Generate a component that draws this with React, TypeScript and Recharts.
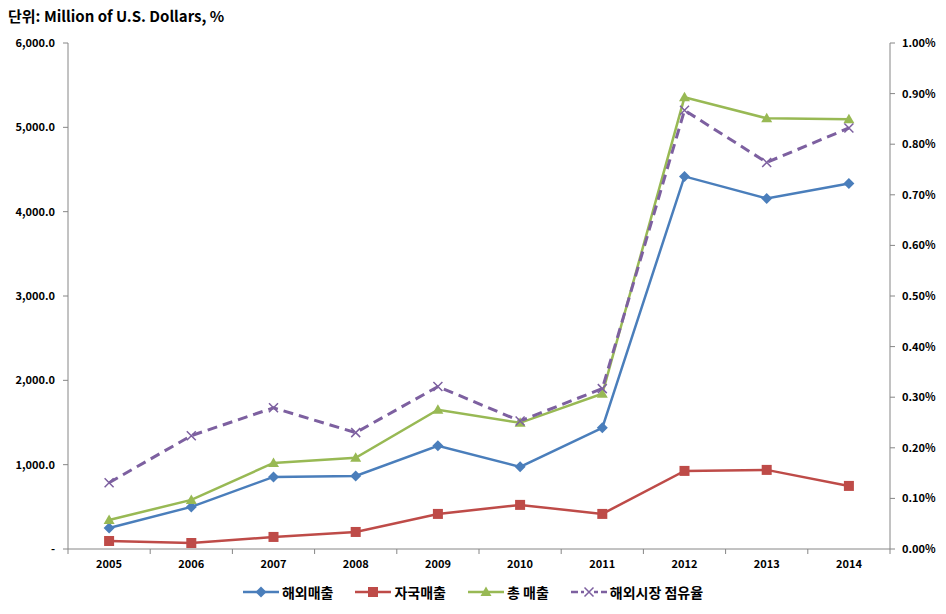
import { ComposedChart, Line, XAxis, YAxis, Legend } from "recharts"

const years = ["2005", "2006", "2007", "2008", "2009", "2010", "2011", "2012", "2013", "2014"]
const overseasSales = [249, 499, 855, 867, 1223, 974, 1437, 4418, 4157, 4335]
const domesticSales = [95, 71, 143, 202, 416, 523, 416, 926, 938, 748]
const totalSales = [344, 582, 1021, 1081, 1651, 1496, 1841, 5356, 5107, 5095]
const marketShare = [0.131, 0.224, 0.279, 0.23, 0.321, 0.253, 0.317, 0.867, 0.764, 0.832]

const leftTicks = [0, 1000, 2000, 3000, 4000, 5000, 6000]
const rightTicks = [0, 0.1, 0.2, 0.3, 0.4, 0.5, 0.6, 0.7, 0.8, 0.9, 1.0]

const BLUE = "#4A7EBB"
const RED = "#BE4B48"
const GREEN = "#98B954"
const PURPLE = "#7D60A0"
const FONT = "'Noto Sans CJK KR', 'Noto Sans', sans-serif"

const data = years.map((y, i) => ({
  year: y,
  overseas: overseasSales[i],
  domestic: domesticSales[i],
  total: totalSales[i],
  share: marketShare[i],
}))

const W = 946
const H = 614
const LEFT = 68
const RIGHT = 890
const halfBand = (RIGHT - LEFT) / years.length / 2

function Diamond({ cx, cy }: any) {
  if (cx == null || cy == null) return null
  return <path d={`M${cx},${cy - 5.5}L${cx + 5.5},${cy}L${cx},${cy + 5.5}L${cx - 5.5},${cy}Z`} fill={BLUE} />
}
function Square({ cx, cy }: any) {
  if (cx == null || cy == null) return null
  return <rect x={cx - 5} y={cy - 5} width={10} height={10} fill={RED} />
}
function Triangle({ cx, cy }: any) {
  if (cx == null || cy == null) return null
  return <path d={`M${cx},${cy - 5.5}L${cx + 5.5},${cy + 4}L${cx - 5.5},${cy + 4}Z`} fill={GREEN} />
}
function Cross({ cx, cy }: any) {
  if (cx == null || cy == null) return null
  return (
    <path d={`M${cx - 4.5},${cy - 4.5}L${cx + 4.5},${cy + 4.5}M${cx + 4.5},${cy - 4.5}L${cx - 4.5},${cy + 4.5}`}
      stroke={PURPLE} strokeWidth={1.5} fill="none" />
  )
}

function YearTick({ x, y, payload, index }: any) {
  const last = index === years.length - 1
  return (
    <g>
      <line x1={x - halfBand} x2={x - halfBand} y1={y - 8} y2={y - 3} stroke="#868686" />
      {last && <line x1={x + halfBand} x2={x + halfBand} y1={y - 8} y2={y - 3} stroke="#868686" />}
      <text x={x} y={y + 11} textAnchor="middle" fontSize={11} fontWeight="bold" fill="#000" fontFamily={FONT}>
        {payload.value}
      </text>
    </g>
  )
}

const legendItems = [
  { label: "해외매출", color: BLUE, mark: "diamond", dash: false },
  { label: "자국매출", color: RED, mark: "square", dash: false },
  { label: "총 매출", color: GREEN, mark: "triangle", dash: false },
  { label: "해외시장 점유율", color: PURPLE, mark: "cross", dash: true },
]

function LegendContent() {
  return (
    <div style={{ display: "flex", justifyContent: "center", gap: 22, fontFamily: FONT, fontSize: 14, fontWeight: "bold", paddingRight: 8 }}>
      {legendItems.map((it) => (
        <div key={it.label} style={{ display: "flex", alignItems: "center", gap: 3 }}>
          <svg width={36} height={12}>
            <line x1={0} x2={36} y1={6} y2={6} stroke={it.color} strokeWidth={2.5} strokeDasharray={it.dash ? "7 3" : undefined} />
            {it.mark === "diamond" && <Diamond cx={18} cy={6} />}
            {it.mark === "square" && <Square cx={18} cy={6} />}
            {it.mark === "triangle" && <Triangle cx={18} cy={6} />}
            {it.mark === "cross" && <rect x={13} y={1} width={10} height={10} fill="#fff" />}
            {it.mark === "cross" && <Cross cx={18} cy={6} />}
          </svg>
          <span>{it.label}</span>
        </div>
      ))}
    </div>
  )
}

export default function App() {
  return (
    <div style={{ position: "absolute", left: 0, top: 0, width: W, height: H, background: "#fff" }}>
      <div style={{ position: "absolute", left: 8, top: 5, fontFamily: FONT, fontSize: 15, fontWeight: "bold" }}>
        단위: Million of U.S. Dollars, %
      </div>
      <ComposedChart width={W} height={H} data={data} margin={{ top: 43, right: 0, bottom: 12, left: 8 }}>
        <XAxis
          dataKey="year"
          axisLine={{ stroke: "#868686" }}
          tickLine={false}
          tick={<YearTick />}
          height={33}
          interval={0}
          padding={{ left: halfBand, right: halfBand }}
        />
        <YAxis
          yAxisId="left"
          width={60}
          domain={[0, 6000]}
          ticks={leftTicks}
          axisLine={{ stroke: "#868686" }}
          tickLine={{ stroke: "#868686" }}
          tickSize={5}
          tickMargin={8}
          tick={{ fontSize: 11, fontWeight: "bold", fill: "#000", fontFamily: FONT }}
          tickFormatter={(v: number) => (v === 0 ? "-" : v.toLocaleString("en-US", { minimumFractionDigits: 1, maximumFractionDigits: 1 }))}
        />
        <YAxis
          yAxisId="right"
          orientation="right"
          width={56}
          domain={[0, 1]}
          ticks={rightTicks}
          axisLine={{ stroke: "#868686" }}
          tickLine={{ stroke: "#868686" }}
          tickSize={5}
          tickMargin={7}
          tick={{ fontSize: 11, fontWeight: "bold", fill: "#000", fontFamily: FONT }}
          tickFormatter={(v: number) => v.toFixed(2) + "%"}
        />
        <Legend content={<LegendContent />} verticalAlign="bottom" />
        <Line yAxisId="left" dataKey="overseas" stroke={BLUE} strokeWidth={2.5} dot={<Diamond />} activeDot={false} isAnimationActive={false} />
        <Line yAxisId="left" dataKey="domestic" stroke={RED} strokeWidth={2.5} dot={<Square />} activeDot={false} isAnimationActive={false} />
        <Line yAxisId="left" dataKey="total" stroke={GREEN} strokeWidth={2.5} dot={<Triangle />} activeDot={false} isAnimationActive={false} />
        <Line yAxisId="right" dataKey="share" stroke={PURPLE} strokeWidth={3} strokeDasharray="10 6" dot={<Cross />} activeDot={false} isAnimationActive={false} />
      </ComposedChart>
    </div>
  )
}
